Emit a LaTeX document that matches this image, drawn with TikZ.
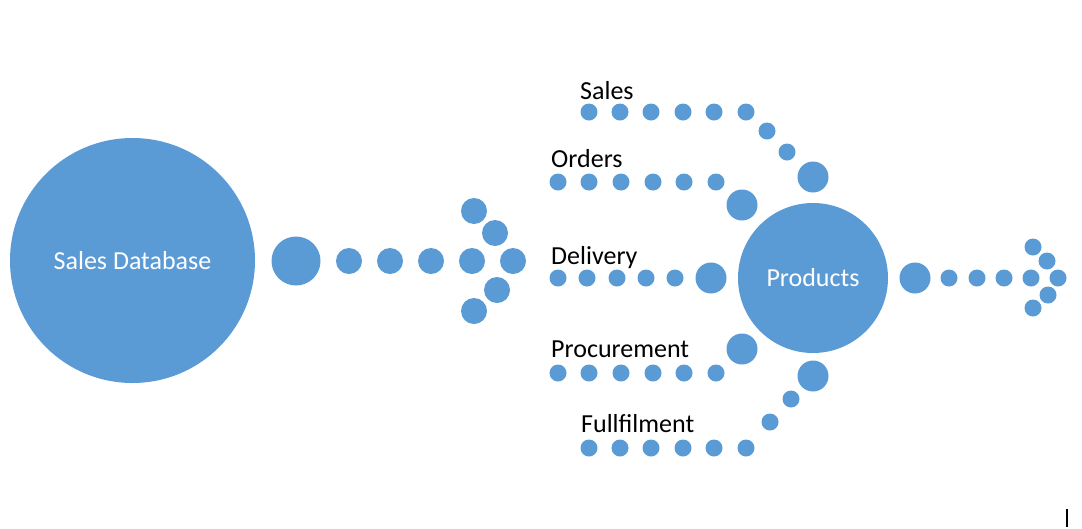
\documentclass[tikz,border=0pt]{standalone}
\usepackage{fontspec}
\setmainfont{Carlito}
\definecolor{ob}{HTML}{5B9BD5}
\begin{document}
\begin{tikzpicture}[x=1pt,y=-1pt,
  blob/.style={circle,fill=ob,draw=none,inner sep=0pt,minimum size=#1},
  lbl/.style={anchor=base west,inner sep=0pt,font=\fontsize{26}{30}\selectfont},
  wtxt/.style={text=white,font=\fontsize{26}{30}\selectfont}]
\useasboundingbox[fill=white] (0,0) rectangle (1082,528);

% main circles
\node[blob=245pt,wtxt] (db) at (132.5,260.5) {Sales Database};
\node[blob=150pt,wtxt] (prod) at (813,278) {Products};

% left arrow
\node[blob=49pt] (la0) at (296,261) {};
\foreach \x [count=\i] in {349,390,431,472} \node[blob=26pt] (la\i) at (\x,261) {};
\node[blob=26pt] (lh1) at (474,211) {};
\node[blob=26pt] (lh2) at (495,233) {};
\node[blob=26pt] (lh3) at (513,261) {};
\node[blob=26pt] (lh4) at (497,290) {};
\node[blob=26pt] (lh5) at (474,311) {};

% right arrow
\node[blob=31pt] (ra0) at (915,278) {};
\foreach \x [count=\i] in {949,977,1004,1031} \node[blob=17pt] (ra\i) at (\x,278) {};
\node[blob=17pt] (rh1) at (1033,247) {};
\node[blob=17pt] (rh2) at (1047,261) {};
\node[blob=17pt] (rh3) at (1058,278) {};
\node[blob=17pt] (rh4) at (1048,295) {};
\node[blob=17pt] (rh5) at (1033,308) {};

% Sales row
\node[lbl] (lsales) at (580,99) {Sales};
\foreach \x [count=\i] in {589,620,651,683,714,746} \node[blob=17pt] (s\i) at (\x,112) {};
\node[blob=17pt] (s7) at (767,131) {};
\node[blob=17pt] (s8) at (787,152) {};
\node[blob=31pt] (s9) at (813,177) {};

% Orders row
\node[lbl] (lorders) at (551,167) {Orders};
\foreach \x [count=\i] in {558,589,621,653,684,716} \node[blob=17pt] (o\i) at (\x,182) {};
\node[blob=31pt] (o7) at (742,205) {};

% Delivery row
\node[lbl] (ldel) at (551,264) {Delivery};
\foreach \x [count=\i] in {558,587,617,646,675} \node[blob=17pt] (d\i) at (\x,278) {};
\node[blob=31pt] (d6) at (711,278) {};

% Procurement row
\node[lbl] (lproc) at (551,357) {Procurement};
\foreach \x [count=\i] in {558,589,621,653,684,716} \node[blob=17pt] (p\i) at (\x,373) {};
\node[blob=31pt] (p7) at (742,349) {};

% Fullfilment row
\node[lbl] (lful) at (581,432) {Fullfilment};
\foreach \x [count=\i] in {589,620,651,683,714,746} \node[blob=17pt] (f\i) at (\x,448) {};
\node[blob=17pt] (f7) at (770,422) {};
\node[blob=17pt] (f8) at (791,399) {};
\node[blob=31pt] (f9) at (813,376) {};

% small cursor mark
\coordinate (m1) at (1067,509);
\coordinate (m2) at (1067,527);
\draw[line width=1.2pt] (m1) -- (m2);
\end{tikzpicture}
\end{document}
